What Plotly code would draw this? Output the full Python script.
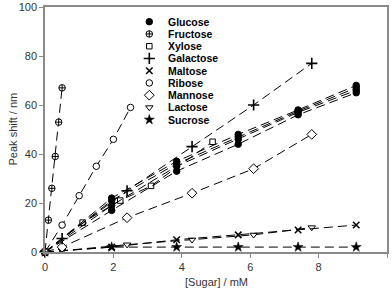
import plotly.graph_objects as go

# ---- data ----
x_fructose = [0, 0.1, 0.2, 0.3, 0.4, 0.5]
y_fructose = [0, 13, 26, 39, 53, 67]

x_ribose = [0, 0.5, 1.0, 1.5, 2.0, 2.5]
y_ribose = [0, 11, 23, 35, 46, 59]

x_gal = [0, 0.5, 2.4, 4.3, 6.1, 7.8]
y_galactose = [0, 5.5, 25, 43, 60, 77]
y_mannose = [0, 2, 14, 24, 34, 48]
y_lactose = [0, 0.5, 3, 5, 7, 10]

x_glc = [0, 1.95, 3.85, 5.65, 7.4, 9.1]
y_glucose_1 = [0, 17, 33, 44, 56, 65]
y_glucose_2 = [0, 19, 35, 46, 57, 66]
y_glucose_3 = [0, 21, 36, 47, 57.5, 67]
y_glucose_4 = [0, 22, 37, 48, 58, 68]
y_maltose = [0, 2, 5, 7, 9, 11]
y_sucrose = [0, 2, 2, 2, 2, 2]

x_xylose = [0, 1.1, 2.2, 3.1, 4.9]
y_xylose = [0, 12, 21, 27, 45]

legend_names = ["Glucose", "Fructose", "Xylose", "Galactose", "Maltose",
                "Ribose", "Mannose", "Lactose", "Sucrose"]

x_ticks = [0, 2, 4, 6, 8, 10]
y_ticks = [0, 20, 40, 60, 80, 100]

# ---- styles ----
DASH = "9px,5px"
styles = {
    "Glucose": dict(symbol="circle", size=6.5, color="black", line=dict(color="black", width=1)),
    "Fructose": dict(symbol="circle-cross", size=6.5, color="white", line=dict(color="black", width=1)),
    "Xylose": dict(symbol="square", size=5.5, color="white", line=dict(color="black", width=1)),
    "Galactose": dict(symbol="cross-thin-open", size=8, color="black", line=dict(color="black", width=1.6)),
    "Maltose": dict(symbol="x-thin-open", size=6.5, color="black", line=dict(color="black", width=1.5)),
    "Ribose": dict(symbol="circle", size=6.5, color="white", line=dict(color="black", width=1)),
    "Mannose": dict(symbol="diamond", size=7.5, color="white", line=dict(color="black", width=1)),
    "Lactose": dict(symbol="triangle-down", size=6.5, color="white", line=dict(color="black", width=1)),
    "Sucrose": dict(symbol="star", size=7.5, color="black", line=dict(color="black", width=0.5)),
}

fig = go.Figure()

def add(x, y, name):
    fig.add_trace(go.Scatter(x=x, y=y, mode="lines+markers", showlegend=False,
                             line=dict(color="black", width=1, dash=DASH),
                             marker=styles[name], cliponaxis=False))

add(x_gal, y_lactose, "Lactose")
add(x_glc, y_sucrose, "Sucrose")
add(x_glc, y_maltose, "Maltose")
add(x_gal, y_mannose, "Mannose")
add(x_xylose, y_xylose, "Xylose")
add(x_glc, y_glucose_1, "Glucose")
add(x_glc, y_glucose_2, "Glucose")
add(x_glc, y_glucose_3, "Glucose")
add(x_glc, y_glucose_4, "Glucose")
add(x_gal, y_galactose, "Galactose")
add(x_ribose, y_ribose, "Ribose")
add(x_fructose, y_fructose, "Fructose")

# manual legend (compact spacing)
leg_x = 3.05
leg_y0 = 94
leg_dy = 5
for i, name in enumerate(legend_names):
    yy = leg_y0 - i * leg_dy
    fig.add_trace(go.Scatter(x=[leg_x], y=[yy], mode="markers", showlegend=False,
                             marker=styles[name], hoverinfo="skip"))
    fig.add_annotation(x=leg_x, xshift=17, y=yy, text="<b>" + name + "</b>", showarrow=False,
                       xanchor="left", yanchor="middle",
                       font=dict(family="Liberation Sans Narrow, Arial Narrow, Liberation Sans, Arial",
                                 size=10.5, color="black"))

TFONT = dict(family="Liberation Sans, Arial", size=11, color="#333333")
axis_common = dict(showgrid=False, zeroline=False, showline=True, linecolor="#8a8a8a",
                   linewidth=1.5, mirror=True, ticks="outside", ticklen=4, automargin=False,
                   tickcolor="#8a8a8a", tickfont=TFONT)

fig.update_xaxes(range=[0, 10], tickvals=x_ticks, **axis_common)
fig.update_yaxes(range=[0, 100], tickvals=y_ticks, **axis_common)

fig.add_annotation(xref="paper", yref="paper", x=0.5, y=0, yshift=-30, text="[Sugar] / mM",
                   showarrow=False, xanchor="center", yanchor="middle", font=TFONT)
fig.add_annotation(xref="paper", yref="paper", x=0, y=0.5, xshift=-33, text="Peak shift / nm",
                   showarrow=False, xanchor="center", yanchor="middle", textangle=-90, font=TFONT)

fig.update_layout(width=392, height=293, margin=dict(l=45, r=5, t=7, b=41),
                  plot_bgcolor="white", paper_bgcolor="white", showlegend=False)

fig.write_html("out.html", config={"displayModeBar": False},
               post_script="document.body.style.margin='0';document.body.style.overflow='hidden';")
